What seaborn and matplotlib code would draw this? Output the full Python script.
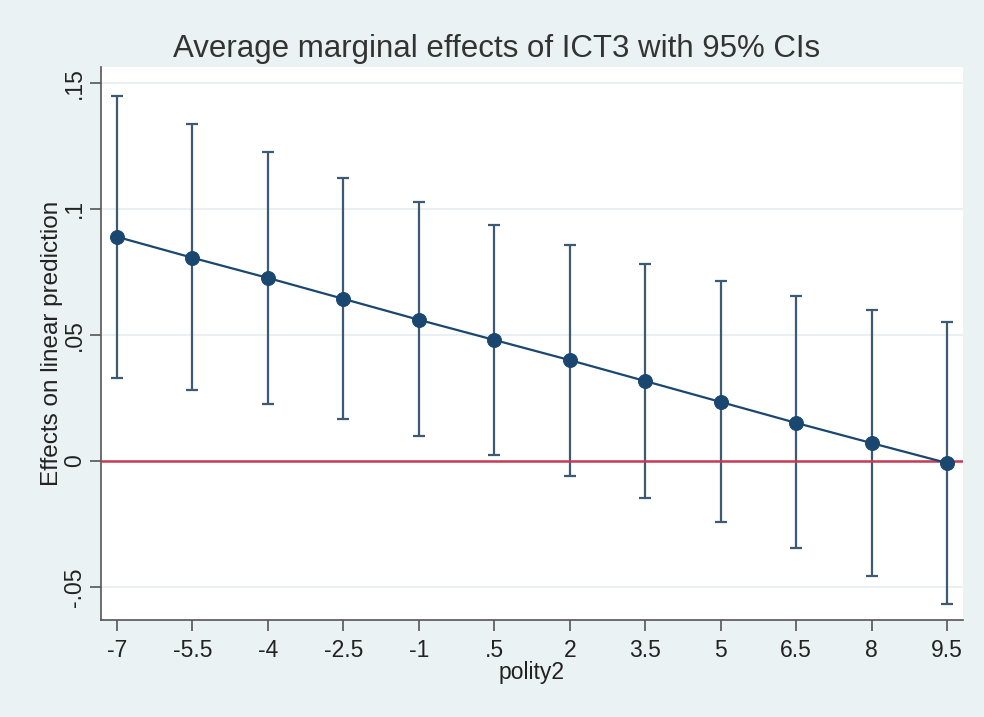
import numpy as np
import pandas as pd
import matplotlib
matplotlib.use("Agg")
import matplotlib.pyplot as plt
import seaborn as sns

polity2 = [-7, -5.5, -4, -2.5, -1, 0.5, 2, 3.5, 5, 6.5, 8, 9.5]
effect = [0.0889, 0.0806, 0.0726, 0.0643, 0.0560, 0.0480, 0.0400, 0.0317, 0.0234, 0.0151, 0.0071, -0.0008]
ci_upper = [0.1448, 0.1337, 0.1226, 0.1123, 0.1028, 0.0937, 0.0857, 0.0782, 0.0714, 0.0655, 0.0599, 0.0552]
ci_lower = [0.0329, 0.0282, 0.0226, 0.0167, 0.0099, 0.0024, -0.0060, -0.0147, -0.0242, -0.0345, -0.0456, -0.0567]
xtick_labels = ["-7", "-5.5", "-4", "-2.5", "-1", ".5", "2", "3.5", "5", "6.5", "8", "9.5"]
ytick_vals = [-0.05, 0, 0.05, 0.1, 0.15]
ytick_labels = ["-.05", "0", ".05", ".1", ".15"]

df = pd.DataFrame({"polity2": polity2, "effect": effect,
                   "lo": ci_lower, "hi": ci_upper})

sns.set_style("white")
plt.rcParams["font.family"] = ["Liberation Sans", "DejaVu Sans"]

bg = "#eaf2f3"
navy = "#1a476f"
ci_col = "#3e5a72"

fig = plt.figure(figsize=(9.84, 7.17), dpi=100, facecolor=bg)
ax = fig.add_axes([0.1026, 0.1353, 0.8761, 0.7713])
ax.set_facecolor("white")

for y in ytick_vals:
    ax.axhline(y, color="#e6eeef", lw=1.2, zorder=0)

ax.errorbar(df["polity2"], df["effect"],
            yerr=[df["effect"] - df["lo"], df["hi"] - df["effect"]],
            fmt="none", ecolor=ci_col, elinewidth=1.6, capsize=4, capthick=1.6, zorder=2)
ax.axhline(0, color="#c93a55", lw=1.8, zorder=3)
sns.lineplot(data=df, x="polity2", y="effect", ax=ax, color=navy, lw=1.6,
             marker="o", markersize=10, markeredgecolor=navy, markerfacecolor=navy,
             zorder=4)

ax.set_xlim(-7.32, 9.82)
ax.set_ylim(-0.0631, 0.1563)
ax.set_xticks(polity2)
ax.set_xticklabels(xtick_labels)
ax.set_yticks(ytick_vals)
ax.set_yticklabels(ytick_labels, rotation=90, va="center")

for s in ["top", "right"]:
    ax.spines[s].set_visible(False)
for s in ["left", "bottom"]:
    ax.spines[s].set_color("#555555")
    ax.spines[s].set_linewidth(1.2)

ax.tick_params(axis="both", which="major", direction="out", length=8, width=1.2,
               color="#555555", labelsize=16.5, labelcolor="#222222", pad=6, bottom=True, left=True)
ax.tick_params(axis="y", pad=3)

ax.set_xlabel("polity2", fontsize=16.5, color="#222222", labelpad=-1)
ax.set_ylabel("Effects on linear prediction", fontsize=17.5, color="#222222", labelpad=0)
fig.suptitle("Average marginal effects of ICT3 with 95% CIs", fontsize=22.5,
             color="#333333", x=0.505, y=0.953)

fig.savefig("out.png", dpi=100, facecolor=bg)
